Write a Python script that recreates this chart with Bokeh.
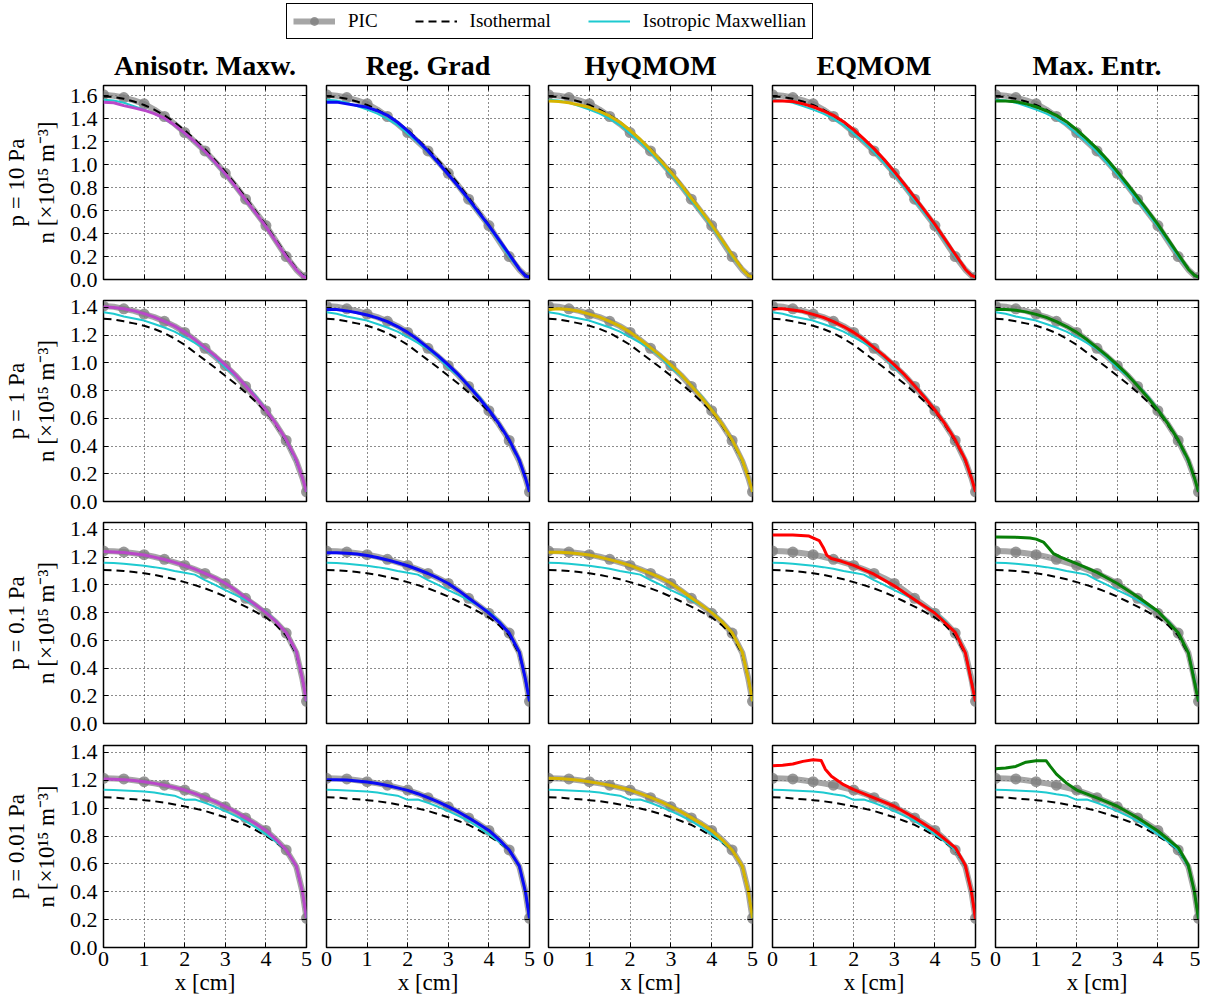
from bokeh.plotting import figure
from bokeh.models import LinearAxis, Legend, LegendItem, PrintfTickFormatter, FixedTicker, Range1d
from bokeh.layouts import column, row
from bokeh.embed import file_html
from bokeh.resources import INLINE

SERIF = "Liberation Serif"

# ---------------- data ----------------
COLUMN_TITLES = ["Anisotr. Maxw.", "Reg. Grad", "HyQMOM", "EQMOM", "Max. Entr."]
PRESSURES = ["10", "1", "0.1", "0.01"]
X_TICKS = [0, 1, 2, 3, 4, 5]
Y_TICKS_TOP = [0.0, 0.2, 0.4, 0.6, 0.8, 1.0, 1.2, 1.4, 1.6]
Y_TICKS = [0.0, 0.2, 0.4, 0.6, 0.8, 1.0, 1.2, 1.4]
Y_MAX = [1.69, 1.45, 1.45, 1.45]

X = [0, 0.25, 0.5, 0.75, 1.0, 1.25, 1.5, 1.75, 2.0, 2.25, 2.5, 2.75, 3.0, 3.25, 3.5, 3.75,
     4.0, 4.25, 4.5, 4.75, 4.9, 5.0]

# p = 10 Pa
PIC_10 = [1.61, 1.60, 1.585, 1.56, 1.53, 1.48, 1.42, 1.355, 1.28, 1.20, 1.12, 1.025, 0.925, 0.815, 0.70, 0.585, 0.47, 0.335, 0.20, 0.085, 0.035, 0.02]
ISO_10 = [1.595, 1.59, 1.575, 1.55, 1.52, 1.48, 1.43, 1.37, 1.30, 1.22, 1.135, 1.04, 0.94, 0.83, 0.715, 0.595, 0.475, 0.345, 0.215, 0.095, 0.04, 0.02]
MAXW_10 = [1.565, 1.56, 1.54, 1.51, 1.48, 1.445, 1.40, 1.345, 1.27, 1.195, 1.11, 1.015, 0.915, 0.805, 0.69, 0.575, 0.46, 0.33, 0.20, 0.085, 0.035, 0.02]
ANI_10 = [1.545, 1.54, 1.515, 1.495, 1.475, 1.445, 1.405, 1.345, 1.275, 1.20, 1.115, 1.022, 0.92, 0.81, 0.695, 0.58, 0.46, 0.33, 0.20, 0.085, 0.03, 0.015]
REG_10 = [1.545, 1.545, 1.53, 1.515, 1.50, 1.47, 1.43, 1.37, 1.295, 1.21, 1.12, 1.02, 0.915, 0.81, 0.70, 0.585, 0.47, 0.345, 0.22, 0.09, 0.03, 0.02]
HYQ_10 = [1.555, 1.55, 1.54, 1.52, 1.50, 1.465, 1.425, 1.37, 1.30, 1.22, 1.13, 1.035, 0.935, 0.825, 0.71, 0.595, 0.475, 0.345, 0.215, 0.09, 0.035, 0.02]
EQM_10 = [1.555, 1.555, 1.55, 1.53, 1.505, 1.47, 1.43, 1.375, 1.305, 1.225, 1.14, 1.045, 0.94, 0.83, 0.715, 0.60, 0.48, 0.35, 0.22, 0.09, 0.035, 0.02]
MEN_10 = [1.555, 1.555, 1.548, 1.53, 1.505, 1.47, 1.43, 1.375, 1.305, 1.225, 1.14, 1.045, 0.94, 0.83, 0.715, 0.60, 0.48, 0.35, 0.22, 0.09, 0.035, 0.02]

# p = 1 Pa
PIC_1 = [1.41, 1.405, 1.39, 1.375, 1.352, 1.33, 1.30, 1.265, 1.22, 1.165, 1.105, 1.045, 0.98, 0.91, 0.83, 0.745, 0.655, 0.555, 0.44, 0.29, 0.17, 0.07]
ISO_1 = [1.318, 1.313, 1.30, 1.285, 1.268, 1.245, 1.215, 1.175, 1.13, 1.075, 1.02, 0.965, 0.907, 0.85, 0.787, 0.72, 0.65, 0.55, 0.435, 0.29, 0.17, 0.07]
MAXW_1 = [1.365, 1.355, 1.335, 1.32, 1.305, 1.28, 1.255, 1.225, 1.185, 1.145, 1.10, 1.04, 0.965, 0.905, 0.84, 0.76, 0.665, 0.56, 0.44, 0.29, 0.17, 0.07]
ANI_1 = [1.405, 1.40, 1.39, 1.375, 1.355, 1.33, 1.30, 1.265, 1.222, 1.168, 1.11, 1.05, 0.985, 0.915, 0.835, 0.75, 0.66, 0.56, 0.445, 0.30, 0.17, 0.07]
REG_1 = [1.385, 1.385, 1.375, 1.362, 1.345, 1.325, 1.298, 1.262, 1.22, 1.168, 1.11, 1.05, 0.985, 0.915, 0.835, 0.75, 0.66, 0.56, 0.445, 0.30, 0.17, 0.07]
HYQ_1 = [1.385, 1.39, 1.385, 1.372, 1.352, 1.33, 1.30, 1.265, 1.222, 1.168, 1.11, 1.05, 0.985, 0.915, 0.835, 0.75, 0.66, 0.56, 0.445, 0.30, 0.17, 0.07]
EQM_1 = [1.39, 1.39, 1.382, 1.37, 1.35, 1.328, 1.298, 1.262, 1.22, 1.168, 1.11, 1.05, 0.985, 0.915, 0.835, 0.75, 0.66, 0.56, 0.445, 0.30, 0.17, 0.07]
MEN_1 = [1.385, 1.385, 1.38, 1.368, 1.35, 1.328, 1.298, 1.262, 1.22, 1.168, 1.11, 1.05, 0.985, 0.915, 0.835, 0.75, 0.66, 0.56, 0.445, 0.30, 0.17, 0.07]

# p = 0.1 Pa
PIC_01 = [1.245, 1.242, 1.237, 1.228, 1.218, 1.203, 1.184, 1.163, 1.14, 1.112, 1.082, 1.048, 1.01, 0.958, 0.903, 0.85, 0.795, 0.73, 0.652, 0.51, 0.32, 0.16]
ISO_01 = [1.108, 1.106, 1.10, 1.093, 1.084, 1.072, 1.057, 1.04, 1.02, 0.998, 0.975, 0.947, 0.915, 0.88, 0.843, 0.805, 0.765, 0.71, 0.635, 0.50, 0.32, 0.16]
MAXW_01 = [1.16, 1.158, 1.152, 1.145, 1.138, 1.128, 1.117, 1.10, 1.088, 1.074, 1.035, 1.0, 0.962, 0.928, 0.89, 0.85, 0.807, 0.74, 0.65, 0.51, 0.32, 0.16]
ANI_01 = [1.24, 1.238, 1.233, 1.225, 1.215, 1.20, 1.183, 1.162, 1.14, 1.113, 1.083, 1.05, 1.012, 0.963, 0.908, 0.855, 0.80, 0.735, 0.655, 0.52, 0.32, 0.16]
REG_01 = [1.232, 1.232, 1.228, 1.222, 1.212, 1.198, 1.18, 1.16, 1.138, 1.111, 1.082, 1.048, 1.01, 0.96, 0.905, 0.852, 0.797, 0.732, 0.652, 0.515, 0.32, 0.16]
HYQ_01 = [1.235, 1.235, 1.232, 1.225, 1.215, 1.20, 1.182, 1.162, 1.14, 1.112, 1.083, 1.05, 1.012, 0.962, 0.907, 0.854, 0.80, 0.735, 0.655, 0.515, 0.32, 0.16]
XE_01 = [0, 0.5, 0.9, 1.15, 1.25, 1.34, 1.45, 1.7, 2.0, 2.5, 3.0, 3.5, 4.0, 4.5, 4.75, 4.9, 5.0]
EQM_01 = [1.36, 1.36, 1.352, 1.32, 1.27, 1.213, 1.19, 1.17, 1.141, 1.077, 0.993, 0.893, 0.797, 0.657, 0.51, 0.30, 0.16]
XM_01 = [0, 0.5, 0.85, 1.0, 1.18, 1.3, 1.43, 1.6, 2.0, 2.5, 3.0, 3.5, 4.0, 4.5, 4.75, 4.9, 5.0]
MEN_01 = [1.345, 1.343, 1.338, 1.33, 1.309, 1.27, 1.225, 1.20, 1.153, 1.09, 1.01, 0.915, 0.81, 0.655, 0.51, 0.30, 0.16]

# p = 0.01 Pa
PIC_001 = [1.215, 1.213, 1.21, 1.20, 1.19, 1.178, 1.165, 1.148, 1.13, 1.105, 1.075, 1.045, 1.01, 0.972, 0.93, 0.887, 0.84, 0.775, 0.70, 0.58, 0.40, 0.21]
ISO_001 = [1.078, 1.076, 1.07, 1.064, 1.057, 1.05, 1.04, 1.027, 1.013, 0.998, 0.98, 0.958, 0.935, 0.908, 0.88, 0.842, 0.80, 0.755, 0.70, 0.58, 0.40, 0.21]
MAXW_001 = [1.133, 1.13, 1.127, 1.124, 1.12, 1.112, 1.10, 1.09, 1.06, 1.062, 1.038, 1.01, 0.979, 0.945, 0.907, 0.862, 0.812, 0.76, 0.70, 0.58, 0.40, 0.21]
ANI_001 = [1.21, 1.208, 1.205, 1.198, 1.19, 1.178, 1.165, 1.148, 1.13, 1.105, 1.077, 1.047, 1.012, 0.975, 0.932, 0.888, 0.84, 0.775, 0.70, 0.585, 0.40, 0.21]
REG_001 = [1.205, 1.205, 1.202, 1.196, 1.188, 1.177, 1.163, 1.146, 1.128, 1.104, 1.076, 1.046, 1.011, 0.973, 0.931, 0.887, 0.84, 0.775, 0.70, 0.585, 0.40, 0.21]
HYQ_001 = [1.215, 1.213, 1.208, 1.20, 1.19, 1.178, 1.165, 1.148, 1.13, 1.105, 1.077, 1.047, 1.012, 0.975, 0.932, 0.888, 0.84, 0.775, 0.70, 0.585, 0.40, 0.21]
XE_001 = [0, 0.25, 0.5, 0.75, 1.0, 1.2, 1.3, 1.45, 1.75, 2.0, 2.5, 3.0, 3.5, 4.0, 4.5, 4.75, 4.9, 5.0]
EQM_001 = [1.305, 1.308, 1.317, 1.336, 1.348, 1.342, 1.28, 1.229, 1.169, 1.133, 1.074, 1.014, 0.931, 0.836, 0.717, 0.59, 0.40, 0.205]
XM_001 = [0, 0.25, 0.5, 0.75, 1.0, 1.25, 1.35, 1.5, 1.75, 2.0, 2.5, 3.0, 3.5, 4.0, 4.5, 4.75, 4.9, 5.0]
MEN_001 = [1.283, 1.288, 1.30, 1.33, 1.34, 1.34, 1.30, 1.245, 1.18, 1.13, 1.074, 1.014, 0.931, 0.836, 0.717, 0.59, 0.40, 0.205]

PIC_ROWS = [PIC_10, PIC_1, PIC_01, PIC_001]
ISO_ROWS = [ISO_10, ISO_1, ISO_01, ISO_001]
MAXW_ROWS = [MAXW_10, MAXW_1, MAXW_01, MAXW_001]
MODEL_ROWS = [
    [(X, ANI_10), (X, REG_10), (X, HYQ_10), (X, EQM_10), (X, MEN_10)],
    [(X, ANI_1), (X, REG_1), (X, HYQ_1), (X, EQM_1), (X, MEN_1)],
    [(X, ANI_01), (X, REG_01), (X, HYQ_01), (XE_01, EQM_01), (XM_01, MEN_01)],
    [(X, ANI_001), (X, REG_001), (X, HYQ_001), (XE_001, EQM_001), (XM_001, MEN_001)],
]

# ---------------- style ----------------
MODEL_COLORS = ["#b948c8", "#0a0af5", "#d6b400", "#ff0000", "#087f08"]
CYAN = "#1ecad0"
PIC_GRAY = "#808080"

FRAME_W = [203, 203, 204, 203, 203]
LEFT_B = [103, 10, 9, 10, 10]
RIGHT_B = [10, 10, 10, 10, 2]
FRAME_H = [194, 201, 201, 202]
TOP_B = [43, 9, 9, 10]
BOT_B = [12, 12, 12, 52]
HEADER_H = 42


def hidden_axis(ticks):
    return LinearAxis(ticker=FixedTicker(ticks=ticks), major_label_text_font_size="1px",
                      major_label_text_color=None, major_label_text_alpha=0,
                      major_label_standoff=0, major_tick_in=5, major_tick_out=0,
                      major_tick_line_color="black", minor_tick_line_color=None,
                      axis_line_color=None)


def make_panel(r, c):
    yt = Y_TICKS_TOP if r == 0 else Y_TICKS
    p = figure(width=LEFT_B[c] + FRAME_W[c] + RIGHT_B[c],
               height=TOP_B[r] + FRAME_H[r] + BOT_B[r],
               x_range=Range1d(0, 5), y_range=Range1d(0, Y_MAX[r]),
               output_backend="svg", toolbar_location=None,
               min_border_left=LEFT_B[c], min_border_right=RIGHT_B[c],
               min_border_top=TOP_B[r], min_border_bottom=BOT_B[r],
               background_fill_color="white", border_fill_color="white")
    p.outline_line_color = "black"
    p.outline_line_width = 1.5
    p.outline_line_alpha = 1.0

    for ax, ticks in ((p.xaxis[0], X_TICKS), (p.yaxis[0], yt)):
        ax.ticker = FixedTicker(ticks=ticks)
        ax.axis_line_color = None
        ax.major_tick_in = 5
        ax.major_tick_out = 0
        ax.major_tick_line_color = "black"
        ax.minor_tick_line_color = None
        ax.major_label_text_font = SERIF
        ax.major_label_text_font_size = "22px"
        ax.major_label_text_color = "black"
        ax.axis_label_text_font = SERIF
        ax.axis_label_text_font_size = "23px"
        ax.axis_label_text_font_style = "normal"
        ax.axis_label_text_color = "black"
    p.yaxis[0].formatter = PrintfTickFormatter(format="%.1f")
    p.xaxis[0].formatter = PrintfTickFormatter(format="%d")

    if c == 0:
        p.yaxis[0].major_label_standoff = 6
        p.yaxis[0].axis_label = "p = " + PRESSURES[r] + " Pa\nn [×10¹⁵ m⁻³]"
        p.yaxis[0].axis_label_standoff = 8
    else:
        p.yaxis[0].major_label_text_font_size = "1px"
        p.yaxis[0].major_label_text_color = None
        p.yaxis[0].major_label_text_alpha = 0
        p.yaxis[0].major_label_standoff = 0
    if r == 3:
        p.xaxis[0].major_label_standoff = 4
        p.xaxis[0].axis_label = "x [cm]"
        p.xaxis[0].axis_label_standoff = 1
    else:
        p.xaxis[0].major_label_text_font_size = "1px"
        p.xaxis[0].major_label_text_color = None
        p.xaxis[0].major_label_text_alpha = 0
        p.xaxis[0].major_label_standoff = 0

    p.add_layout(hidden_axis(X_TICKS), "above")
    p.add_layout(hidden_axis(yt), "right")

    for g in (p.xgrid[0], p.ygrid[0]):
        g.grid_line_color = "black"
        g.grid_line_dash = "1 3"
        g.grid_line_width = 1
        g.grid_line_alpha = 0.9

    if r == 0:
        p.title.text = COLUMN_TITLES[c]
        p.title.align = "center"
        p.title.text_font = SERIF
        p.title.text_font_size = "28px"
        p.title.text_font_style = "bold"
        p.title.text_color = "black"
        p.title.standoff = 9

    pic = PIC_ROWS[r]
    mx = [x for x in X if abs(x * 2 - round(x * 2)) < 1e-9]
    my = [pic[i] for i, x in enumerate(X) if abs(x * 2 - round(x * 2)) < 1e-9]
    p.line(X, pic, line_color=PIC_GRAY, line_alpha=0.7, line_width=6, line_join="round")
    p.scatter(mx, my, size=11, fill_color=PIC_GRAY, fill_alpha=0.8, line_color=None)
    p.line(X, ISO_ROWS[r], line_color="black", line_width=2, line_dash="8 5")
    p.line(X, MAXW_ROWS[r], line_color=CYAN, line_width=2)
    mxs, mys = MODEL_ROWS[r][c]
    p.line(mxs, mys, line_color=MODEL_COLORS[c], line_width=3, line_join="round")
    return p


# ---------------- header with legend ----------------
header = figure(width=1200, height=HEADER_H, x_range=Range1d(0, 1), y_range=Range1d(0, 1),
                x_axis_type=None, y_axis_type=None, output_backend="svg",
                toolbar_location=None, min_border=0)
header.outline_line_color = None
header.grid.visible = False
OFF = [-10, -9]
h_pic_l = header.line(OFF, OFF, line_color=PIC_GRAY, line_alpha=0.7, line_width=6)
h_pic_m = header.scatter(OFF, OFF, size=11, fill_color=PIC_GRAY, fill_alpha=0.8, line_color=None)
h_iso = header.line(OFF, OFF, line_color="black", line_width=2, line_dash="8 5")
h_max = header.line(OFF, OFF, line_color=CYAN, line_width=2)
legend = Legend(items=[LegendItem(label="PIC", renderers=[h_pic_l, h_pic_m]),
                       LegendItem(label="Isothermal", renderers=[h_iso]),
                       LegendItem(label="Isotropic Maxwellian", renderers=[h_max])],
                orientation="horizontal", location=(286, 3),
                border_line_color="black", border_line_width=1, border_line_alpha=1,
                label_text_font=SERIF, label_text_font_size="19px", label_text_color="black",
                glyph_width=42, glyph_height=22, label_height=22,
                label_standoff=13, padding=6, spacing=37, margin=0)
header.add_layout(legend)

rows = [row(*[make_panel(r, c) for c in range(5)]) for r in range(4)]
layout = column(header, *rows)

open("out.html", "w").write(file_html(layout, INLINE))
